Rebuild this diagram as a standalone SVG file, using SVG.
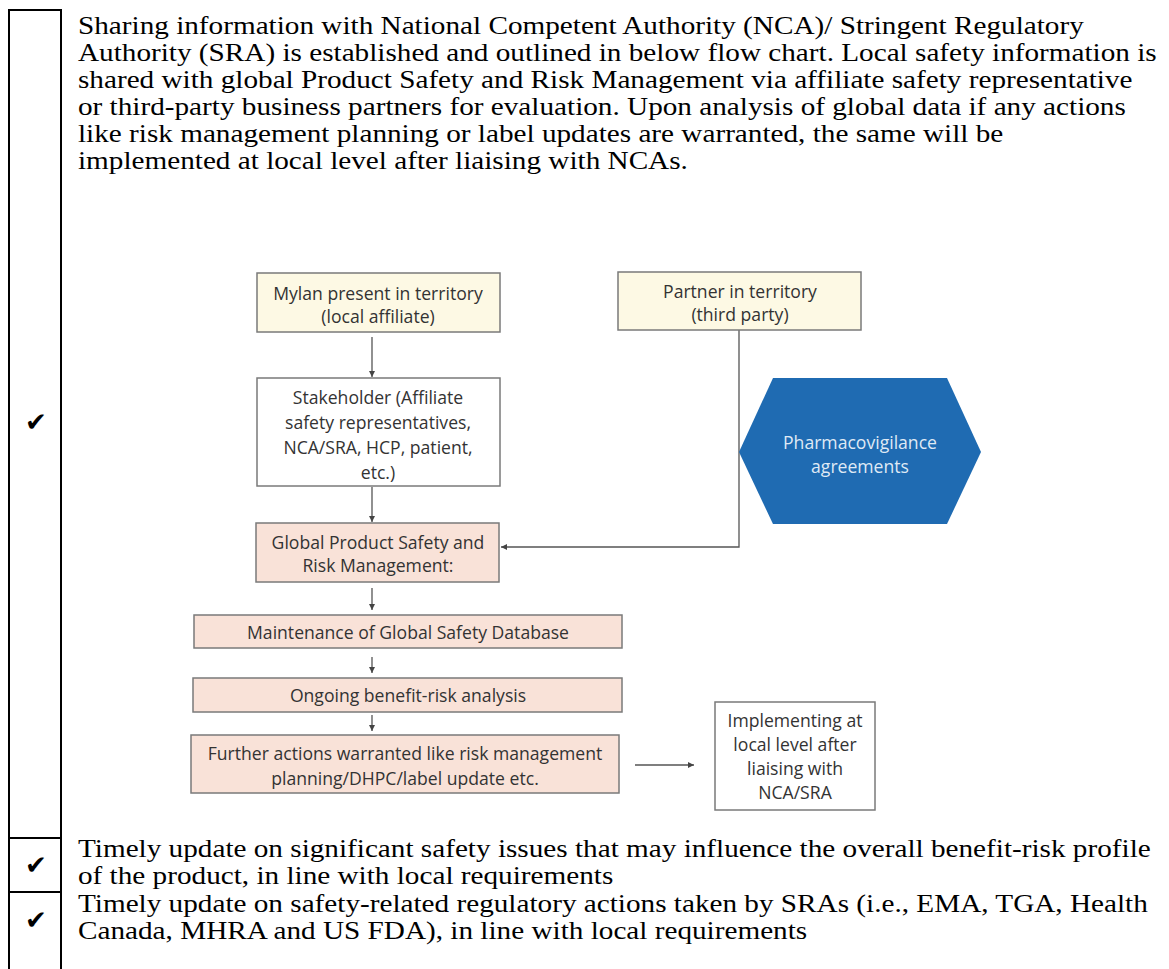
<svg xmlns="http://www.w3.org/2000/svg" width="1169" height="969" viewBox="0 0 1169 969">
<style>
.body{font-family:"Liberation Serif","Times New Roman",serif;font-size:26px;fill:#000}
.chk{font-family:"DejaVu Sans",sans-serif;font-size:26px;fill:#000;text-anchor:middle}
.tbl{stroke:#000;stroke-width:2;fill:none}
.bx{stroke:#7a7a7a;stroke-width:1.5}
.yel{fill:#fdf9e4}
.pch{fill:#f9e2d8}
.wht{fill:#fff}
.lbl{font-family:"Open Sans","Noto Sans",sans-serif;font-size:17.6px;fill:#333;text-anchor:middle;dominant-baseline:central}
.hexl{font-family:"Open Sans","Noto Sans",sans-serif;font-size:17.6px;fill:#dfe9f5;text-anchor:middle;dominant-baseline:central}
.con{stroke:#555;stroke-width:1.3;fill:none}
</style>
<defs>
<marker id="ah" viewBox="0 0 10 10" refX="10" refY="5" markerWidth="6" markerHeight="6" markerUnits="userSpaceOnUse" orient="auto">
<path d="M0,0 L10,5 L0,10 z" fill="#444"/>
</marker>
</defs>
<rect width="1169" height="969" fill="#fff"/>
<g id="table">
<line class="tbl" x1="9" y1="10" x2="9" y2="969"/>
<line class="tbl" x1="61" y1="10" x2="61" y2="969"/>
<line class="tbl" x1="8" y1="10" x2="62" y2="10"/>
<line class="tbl" x1="8" y1="838" x2="62" y2="838"/>
<line class="tbl" x1="8" y1="892" x2="62" y2="892"/>
<text class="chk" x="36" y="431">✔</text>
<text class="chk" x="36" y="874">✔</text>
<text class="chk" x="36" y="929">✔</text>
</g>
<g id="intro-text" transform="translate(78,0) scale(1.124,1) translate(-78,0)">
<text class="body" x="78" y="34">Sharing information with National Competent Authority (NCA)/ Stringent Regulatory</text>
<text class="body" x="78" y="61">Authority (SRA) is established and outlined in below flow chart. Local safety information is</text>
<text class="body" x="78" y="88">shared with global Product Safety and Risk Management via affiliate safety representative</text>
<text class="body" x="78" y="115">or third-party business partners for evaluation. Upon analysis of global data if any actions</text>
<text class="body" x="78" y="142">like risk management planning or label updates are warranted, the same will be</text>
<text class="body" x="78" y="169">implemented at local level after liaising with NCAs.</text>
</g>
<g id="bottom-text" transform="translate(78,0) scale(1.124,1) translate(-78,0)">
<text class="body" x="78" y="857">Timely update on significant safety issues that may influence the overall benefit-risk profile</text>
<text class="body" x="78" y="884">of the product, in line with local requirements</text>
<text class="body" x="78" y="912">Timely update on safety-related regulatory actions taken by SRAs (i.e., EMA, TGA, Health</text>
<text class="body" x="78" y="939">Canada, MHRA and US FDA), in line with local requirements</text>
</g>
<g id="connectors">
<line class="con" x1="372" y1="337" x2="372" y2="377" marker-end="url(#ah)"/>
<line class="con" x1="372" y1="487" x2="372" y2="522" marker-end="url(#ah)"/>
<polyline class="con" points="739,330 739,547 501,547" marker-end="url(#ah)"/>
<line class="con" x1="372" y1="588" x2="372" y2="610" marker-end="url(#ah)"/>
<line class="con" x1="372" y1="657" x2="372" y2="673" marker-end="url(#ah)"/>
<line class="con" x1="372" y1="715" x2="372" y2="731" marker-end="url(#ah)"/>
<line class="con" x1="635" y1="765" x2="694" y2="765" marker-end="url(#ah)"/>
</g>
<g id="node-mylan">
<rect class="bx yel" x="257" y="273" width="243" height="59"/>
<text class="lbl" x="378" y="293">Mylan present in territory</text>
<text class="lbl" x="378" y="316">(local affiliate)</text>
</g>
<g id="node-partner">
<rect class="bx yel" x="618" y="272" width="243" height="58"/>
<text class="lbl" x="740" y="291">Partner in territory</text>
<text class="lbl" x="740" y="314">(third party)</text>
</g>
<g id="node-stakeholder">
<rect class="bx wht" x="257" y="378" width="243" height="108"/>
<text class="lbl" x="378" y="397">Stakeholder (Affiliate</text>
<text class="lbl" x="378" y="422">safety representatives,</text>
<text class="lbl" x="378" y="447">NCA/SRA, HCP, patient,</text>
<text class="lbl" x="378" y="472">etc.)</text>
</g>
<g id="node-pv">
<polygon points="739,452 773,378 947,378 981,452 947,524 773,524" fill="#1f6bb2"/>
<text class="hexl" x="860" y="442">Pharmacovigilance</text>
<text class="hexl" x="860" y="466">agreements</text>
</g>
<g id="node-gpsrm">
<rect class="bx pch" x="256" y="523" width="243" height="59"/>
<text class="lbl" x="378" y="542">Global Product Safety and</text>
<text class="lbl" x="378" y="565">Risk Management:</text>
</g>
<g id="node-maint">
<rect class="bx pch" x="194" y="615" width="428" height="33"/>
<text class="lbl" x="408" y="632">Maintenance of Global Safety Database</text>
</g>
<g id="node-ongoing">
<rect class="bx pch" x="193" y="678" width="429" height="34"/>
<text class="lbl" x="408" y="695">Ongoing benefit-risk analysis</text>
</g>
<g id="node-further">
<rect class="bx pch" x="191" y="735" width="428" height="58"/>
<text class="lbl" x="405" y="753">Further actions warranted like risk management</text>
<text class="lbl" x="405" y="778">planning/DHPC/label update etc.</text>
</g>
<g id="node-implement">
<rect class="bx wht" x="715" y="702" width="160" height="108"/>
<text class="lbl" x="795" y="720">Implementing at</text>
<text class="lbl" x="795" y="744">local level after</text>
<text class="lbl" x="795" y="768">liaising with</text>
<text class="lbl" x="795" y="792">NCA/SRA</text>
</g>
</svg>
